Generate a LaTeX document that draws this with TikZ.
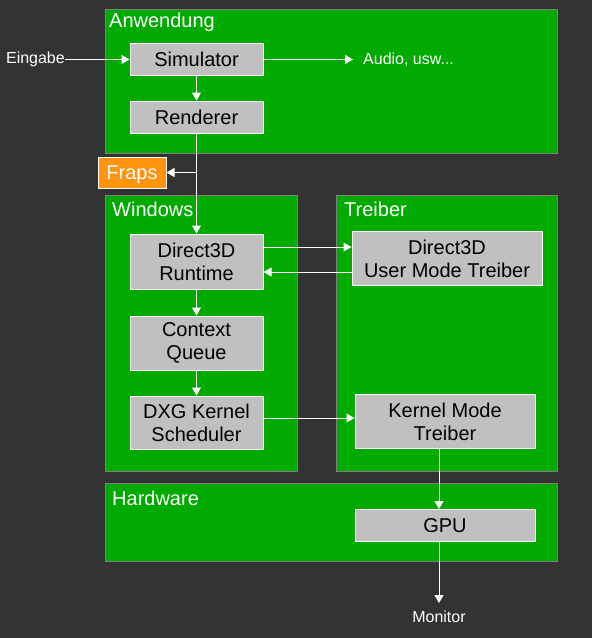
\documentclass[tikz,border=0pt]{standalone}
\usepackage{fontspec}
\setmainfont{Liberation Sans}
\usepackage{xcolor}
\usetikzlibrary{positioning,arrows.meta}
\definecolor{hintergrund}{HTML}{333333}
\definecolor{gruen}{HTML}{00AA00}
\definecolor{grau}{HTML}{C0C0C0}
\definecolor{rahmen}{HTML}{808080}
\definecolor{orange}{HTML}{FF9411}

\begin{document}
\begin{tikzpicture}[x=1pt,y=-1pt,
	ebene/.style={draw=rahmen, fill=gruen, line width=1pt},
	titel/.style={anchor=base west, text=white, inner sep=0pt, font=\fontsize{20}{23}\selectfont},
	block/.style={draw=white, fill=grau, line width=1pt, align=center, inner sep=0pt, minimum width=133pt, font=\fontsize{20}{23}\selectfont},
	beschr/.style={text=white, inner sep=0pt, font=\fontsize{16}{18}\selectfont},
	pfeil/.style={draw=white, line width=1pt, -{Triangle[width=9pt,length=8pt]}}
]
\fill[hintergrund] (0,0) rectangle (592,638);

\draw[ebene] (105,9) rectangle (557,153);
\draw[ebene] (105,195) rectangle (297,471);
\draw[ebene] (336,195) rectangle (557,471);
\draw[ebene] (105,483) rectangle (557,561);
\node[titel] (tanw) at (109,27) {Anwendung};
\node[titel] (twin) at (112,216) {Windows};
\node[titel] (ttrb) at (344,216) {Treiber};
\node[titel] (thw) at (112,505) {Hardware};

\node[block, minimum height=32pt] (sim) at (196.5,59.5) {Simulator};
\node[block, minimum height=32pt, below=24.5pt of sim] (ren) {Renderer};
\node[block, minimum width=68pt, minimum height=31pt, fill=orange, text=white, text depth=0pt] (fraps) at (132,172.5) {Fraps};
\node[block, minimum height=55pt] (rt) at (196.5,261.5) {Direct3D\\Runtime};
\node[block, minimum height=54pt, below=26pt of rt] (cq) {Context\\Queue};
\node[block, minimum height=53pt, below=25pt of cq] (dxg) {DXG Kernel\\Scheduler};
\node[block, minimum width=190pt, minimum height=54pt] (umd) at (447,258.5) {Direct3D\\User Mode Treiber};
\node[block, minimum width=180pt, minimum height=54pt] (kmd) at (445,421.5) {Kernel Mode\\Treiber};
\node[block, minimum width=180pt, minimum height=32pt] (gpu) at (445,525.5) {GPU};

\node[beschr, anchor=east] (ein) at (65,59.5) {Eingabe};
\node[beschr, anchor=west] (audio) at (363,59.5) {Audio, usw...};
\node[beschr, anchor=north] (mon) at (439,611) {Monitor};

\draw[pfeil] (ein.east) -- (sim.west);
\draw[pfeil] (sim.east) -- ([xshift=-10pt]audio.west);
\draw[pfeil] (sim) -- (ren);
\draw[pfeil] (ren) -- (rt);
\draw[pfeil] (ren.south |- fraps.east) -- (fraps.east);
\draw[pfeil] ([yshift=14.5pt]rt.east) -- ([yshift=14.5pt]rt.east -| umd.west);
\draw[pfeil] ([yshift=-10.5pt]rt.east -| umd.west) -- ([yshift=-10.5pt]rt.east);
\draw[pfeil] (rt) -- (cq);
\draw[pfeil] (cq) -- (dxg);
\draw[pfeil] ([yshift=4.5pt]dxg.east) -- ([yshift=4.5pt]dxg.east -| kmd.west);
\draw[pfeil] ([xshift=-6pt]kmd.south) -- ([xshift=-6pt]kmd.south |- gpu.north);
\draw[pfeil] ([xshift=-6pt]gpu.south) -- ([yshift=8pt]mon.north);
\end{tikzpicture}
\end{document}
